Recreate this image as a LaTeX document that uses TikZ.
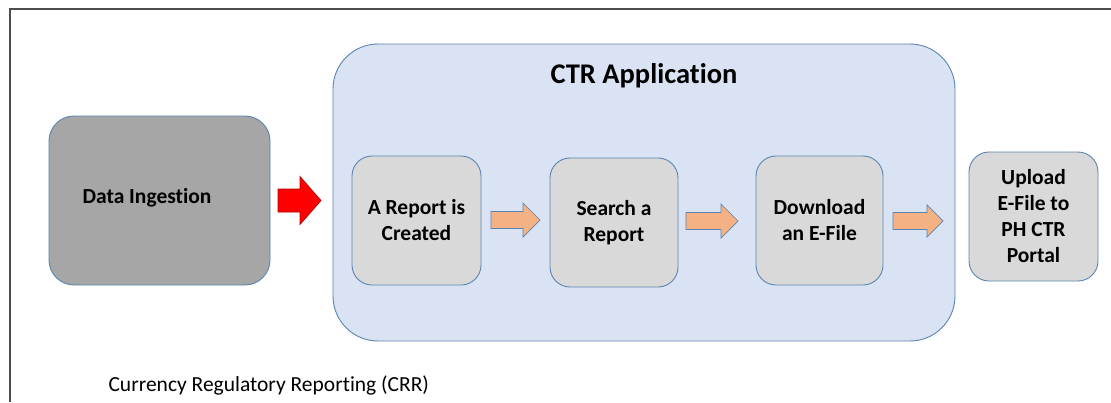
\documentclass[tikz,border=0pt]{standalone}
\usepackage{fontspec}
\setmainfont{Carlito}[Ligatures=NoCommon]
\definecolor{edgeblue}{HTML}{5B84B1}
\definecolor{darkfill}{HTML}{A6A6A6}
\definecolor{lightfill}{HTML}{D9D9D9}
\definecolor{appfill}{HTML}{DAE3F3}
\definecolor{orangefill}{HTML}{F4B183}
\definecolor{framegray}{HTML}{4D4D4D}
\tikzset{
  box/.style={draw=edgeblue, line width=0.9pt, rounded corners=#1, inner sep=0pt},
  box/.default=22pt,
  stepbox/.style={box=20pt, fill=lightfill, align=center,
    font=\fontsize{21.5}{26}\selectfont\bfseries},
  blockarrow/.style={draw=edgeblue, line width=0.7pt, line join=miter},
}
% block arrow: #1 style, #2 x-left, #3 x-headstart, #4 x-tip, #5 y-center, #6 shaft half, #7 head half
\newcommand{\myblockarrow}[7]{%
  \draw[#1] (#2,#5-#6) -- (#3,#5-#6) -- (#3,#5-#7) -- (#4,#5) -- (#3,#5+#7) -- (#3,#5+#6) -- (#2,#5+#6) -- cycle;}
\begin{document}
\begin{tikzpicture}[x=1pt,y=-1pt]
\useasboundingbox (0,0) rectangle (1111,402);
\fill[white] (0,0) rectangle (1111,402);
% frame
\draw[framegray, line width=1.3pt] (10,402) -- (10,9) -- (1111,9);

% data ingestion
\node[box=25pt, fill=darkfill, minimum width=221pt, minimum height=169pt] (di) at (159.5,200.5) {};
\node[font=\fontsize{21.5}{24}\selectfont\bfseries] (dil) at (147,198) {Data Ingestion};

% CTR application container
\node[box=45pt, fill=appfill, minimum width=622pt, minimum height=297pt] (app) at (644,192.5) {};
\node[font=\fontsize{28.5}{32}\selectfont\bfseries] (appt) at (644,76) {CTR Application};

% steps
\node[stepbox, minimum width=129pt, minimum height=129pt] (s1) at (416.5,220.5) {A Report is\\Created};
\node[stepbox, minimum width=128pt, minimum height=129pt] (s2) at (614,222.5) {Search a\\Report};
\node[stepbox, minimum width=127pt, minimum height=129pt] (s3) at (819.5,220.5) {Download\\an E-File};
\node[stepbox, minimum width=129pt, minimum height=129pt] (s4) at (1033.5,216.5) {Upload\\E-File to\\PH CTR\\Portal};

% arrows
\myblockarrow{blockarrow, fill=red, draw=red!70!black}{278}{300}{321}{200.5}{11.5}{24}
\myblockarrow{blockarrow, fill=orangefill}{491}{523}{540}{220}{8.5}{17}
\myblockarrow{blockarrow, fill=orangefill}{686}{721}{738}{221}{8.5}{17}
\myblockarrow{blockarrow, fill=orangefill}{893}{927}{943}{221}{8.5}{16}

% caption
\node[anchor=west, font=\fontsize{21.5}{24}\selectfont] (cap) at (105,385) {Currency Regulatory Reporting (CRR)};
\end{tikzpicture}
\end{document}
